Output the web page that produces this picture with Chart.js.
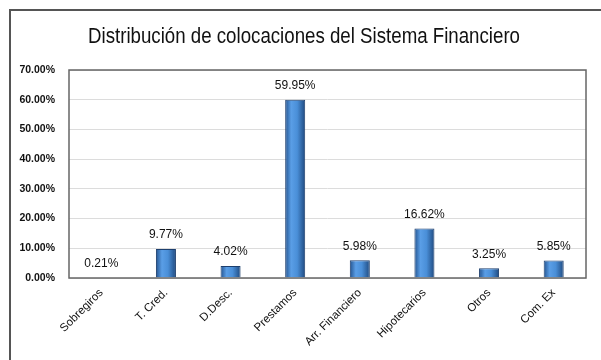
<!DOCTYPE html>
<html>
<head>
<meta charset="utf-8">
<script src="https://cdn.jsdelivr.net/npm/chart.js@4/dist/chart.umd.min.js"></script>
<style>
  html, body { margin: 0; padding: 0; background: #fff; }
  #wrap { width: 601px; height: 360px; position: relative; }
</style>
</head>
<body>
<div id="wrap"><canvas id="chart" width="601" height="360"></canvas></div>
<script>
// datos del grafico
const categorias = ["Sobregiros", "T. Cred.", "D.Desc.", "Prestamos", "Arr. Financiero", "Hipotecarios", "Otros", "Com. Ex"];
const porcentajes = [0.21, 9.77, 4.02, 59.95, 5.98, 16.62, 3.25, 5.85];
const titulo = "Distribución de colocaciones del Sistema Financiero";

// marco exterior, titulo, borde del area y etiquetas de valor
const marcoPlugin = {
  id: 'marco',
  beforeDraw(chart) {
    const ctx = chart.ctx;
    ctx.save();
    ctx.fillStyle = '#fff';
    ctx.fillRect(0, 0, chart.width, chart.height);
    ctx.strokeStyle = '#555';
    ctx.lineWidth = 2;
    ctx.beginPath();
    ctx.moveTo(10, chart.height + 5);
    ctx.lineTo(10, 10);
    ctx.lineTo(chart.width + 5, 10);
    ctx.stroke();
    // titulo estrecho (escala horizontal)
    ctx.fillStyle = '#111';
    ctx.font = '22px "Liberation Sans", Arial';
    ctx.textAlign = 'center';
    ctx.textBaseline = 'alphabetic';
    const w = ctx.measureText(titulo).width;
    ctx.translate(304, 43);
    ctx.scale(432 / w, 1);
    ctx.fillText(titulo, 0, 0);
    ctx.restore();
  },
  afterDatasetsDraw(chart) {
    const ctx = chart.ctx;
    const a = chart.chartArea;
    ctx.save();
    ctx.strokeStyle = '#666';
    ctx.lineWidth = 1.5;
    ctx.strokeRect(a.left, a.top, a.right - a.left, a.bottom - a.top);
    ctx.fillStyle = '#111';
    ctx.font = '12px "Liberation Sans", Arial';
    ctx.textAlign = 'center';
    ctx.textBaseline = 'middle';
    chart.getDatasetMeta(0).data.forEach((bar, i) => {
      ctx.fillText(porcentajes[i].toFixed(2) + '%', bar.x, bar.y - 14);
    });
    ctx.restore();
  }
};

const ctx = document.getElementById('chart').getContext('2d');

function colorBarra(c) {
  const sx = c.chart.scales && c.chart.scales.x;
  if (!sx || c.dataIndex === undefined) return '#4a8fd8';
  const x = sx.getPixelForValue(c.dataIndex);
  if (!Number.isFinite(x)) return '#4a8fd8';
  const w = 20;
  const g = c.chart.ctx.createLinearGradient(x - w / 2, 0, x + w / 2, 0);
  g.addColorStop(0, '#23538f');
  g.addColorStop(0.3, '#5a9ee6');
  g.addColorStop(0.6, '#4a8fd8');
  g.addColorStop(1, '#1f4a80');
  return g;
}

new Chart(ctx, {
  type: 'bar',
  data: {
    labels: categorias,
    datasets: [{
      data: porcentajes,
      backgroundColor: colorBarra,
      borderColor: '#1d3f6e',
      borderWidth: 1,
      barPercentage: 0.31,
      categoryPercentage: 1
    }]
  },
  options: {
    responsive: false,
    animation: false,
    layout: { padding: { top: 70, right: 15, left: 0, bottom: 0 } },
    plugins: {
      legend: { display: false },
      tooltip: { enabled: false }
    },
    scales: {
      x: {
        grid: { display: false, drawTicks: false },
        border: { display: false },
        ticks: {
          minRotation: 45, maxRotation: 45,
          color: '#111',
          padding: 8,
          font: { family: '"Liberation Sans", Arial', size: 11.5 }
        },
        afterFit(s) { s.height = 82; }
      },
      y: {
        min: 0, max: 70,
        grid: { color: '#dcdcdc', drawTicks: false },
        border: { display: false },
        ticks: {
          stepSize: 10,
          padding: 14,
          color: '#111',
          font: { family: '"Liberation Sans", Arial', size: 10.5, weight: 'bold' },
          callback: v => v.toFixed(2) + '%'
        },
        afterFit(s) { s.width = 69; }
      }
    }
  },
  plugins: [marcoPlugin]
});
</script>
</body>
</html>
